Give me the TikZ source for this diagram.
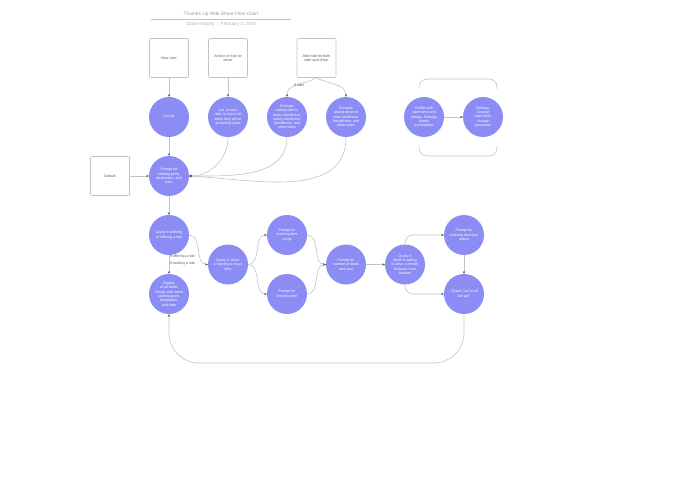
\documentclass[tikz,border=0pt]{standalone}
\usepackage{fontspec}
\setmainfont{Liberation Sans}
\usetikzlibrary{positioning,arrows.meta}
\definecolor{bubble}{RGB}{140,140,245}
\definecolor{wire}{RGB}{195,195,195}
\tikzstyle{stepcircle} = [circle, fill=bubble, minimum size=40pt, inner sep=0pt, align=center, text=white, font=\fontsize{3.6}{4.3}\selectfont]
\tikzstyle{entrybox} = [rectangle, rounded corners=1pt, draw=wire, line width=0.6pt, minimum width=39pt, minimum height=39pt, align=center, text=black!65, font=\fontsize{3.6}{4.3}\selectfont]
\tikzstyle{cond} = [inner sep=0.5pt, text=black!65, font=\fontsize{3.6}{4.3}\selectfont]
\tikzstyle{arrow} = [-{Stealth[length=2.6pt,width=2.4pt,color=black!70]}, draw=wire, line width=0.6pt]

\begin{document}
\begin{tikzpicture}[x=1pt, y=-1pt, node distance=59pt]
      \useasboundingbox (0,0) rectangle (695,494);
      %标题
      \node[text=black!40, font=\fontsize{4.8}{5}\selectfont] (title) at (221,14) {Thumbs Up Ride Share Flow Chart};
      \draw[wire, line width=0.6pt] (151,19.5) -- (291,19.5);
      \node[text=black!30, font=\fontsize{4.6}{5}\selectfont] (author) at (221,24.5) {Claire Murphy \ | \ February 2, 2019};
      %定义流程图具体形状
      \node[stepcircle] (setup) at (169,117) {Set Up};
      \node[entrybox, above of = setup] (newuser) {New User};
      \node[stepcircle, right of = setup] (list) {List \ of each\\rider to check off\\when they arrive\\at starting point};
      \node[entrybox, above of = list] (atride) {At time of ride for\\driver};
      \node[stepcircle, right of = list] (rider) {Prompts\\asking rider to\\enter cleanliness,\\safety, timeliness,\\friendliness, and\\other notes};
      \node[stepcircle, right of = rider] (driver) {Prompts\\asking driver to\\enter timeliness,\\friendliness, and\\other notes};
      \node[entrybox, above of = rider, xshift = 29.5pt] (afterride) {After ride for both\\rider and driver};
      \node[stepcircle, right of = driver, xshift = 19pt] (profile) {Profile with\\username and\\ratings. Settings\\button\\somewhere};
      \node[stepcircle, right of = profile] (settings) {Settings:\\Change\\username,\\change\\password};
      \node[stepcircle, below of = setup] (start) {Prompt for\\starting point,\\destination, and\\date};
      \node[entrybox, left of = start] (default) {Default};
      \node[stepcircle, below of = start] (seek) {Query if seeking\\or offering a ride};
      \node[stepcircle, below of = seek] (display) {Display\\of all driver\\listings with same\\starting point,\\destination,\\and date};
      \node[stepcircle, right of = seek, yshift = -29.5pt] (leave) {Query if \ driver\\is leaving at exact\\time};
      \node[stepcircle, right of = leave, yshift = 29.5pt] (range) {Prompt for\\entering time\\range};
      \node[stepcircle, right of = leave, yshift = -29.5pt] (exact) {Prompt for\\entering time};
      \node[stepcircle, right of = range, yshift = -29.5pt] (seats) {Prompt for\\number of seats\\and cost};
      \node[stepcircle, right of = seats] (willing) {Query if\\driver is willing\\to drive a certain\\distance from\\location};
      \node[stepcircle, right of = willing, yshift = 29.5pt] (radius) {Prompt for\\entering diversion\\radius};
      \node[stepcircle, below of = radius] (great) {"Great! You're all\\set up!"};
      \coordinate (loopend) at (169,363);
      %个人资料分组
      \draw[wire, line width=0.6pt, rounded corners=8pt] (419,89) |- (497,79) -- (497,89);
      \draw[wire, line width=0.6pt, rounded corners=8pt] (419,146) |- (497,156) -- (497,146);
      %连接具体形状
      \draw [arrow] (newuser) -- (setup);
      \draw [arrow] (atride) -- (list);
      \draw [arrow] (afterride.south) to[out=-150, in=90] node[cond, pos=0.3, below left=0pt, yshift=-1pt] {If rider} (rider.north);
      \draw [arrow] (afterride.south) to[out=-30, in=90] (driver.north);
      \draw [arrow] (setup) -- (start);
      \draw [arrow] (list.south) to[out=-90, in=0] (start.east);
      \draw [arrow] (rider.south) to[out=-90, in=0] (start.east);
      \draw [arrow] (driver.south) to[out=-90, in=-3] (start.east);
      \draw [arrow] (default) -- (start);
      \draw [arrow] (profile) -- (settings);
      \draw [arrow] (start) -- (seek);
      \draw [arrow] (seek) -- node[cond, pos=0.1, anchor=west] {If offering a ride} node[cond, pos=0.45, anchor=west] {If seeking a ride} (display);
      \draw [arrow] (seek.east) to[out=0, in=180] (leave.west);
      \draw [arrow] (leave.east) to[out=0, in=180] (range.west);
      \draw [arrow] (leave.east) to[out=0, in=180] (exact.west);
      \draw [arrow] (range.east) to[out=0, in=180] (seats.west);
      \draw [arrow] (exact.east) to[out=0, in=180] (seats.west);
      \draw [arrow] (seats) -- (willing);
      \draw [arrow, rounded corners=8pt] (willing.north) |- (radius.west);
      \draw [arrow, rounded corners=8pt] (willing.south) |- (great.west);
      \draw [arrow] (radius) -- (great);
      \draw [arrow, rounded corners=30pt] (great.south) |- (loopend) -- (display.south);
\end{tikzpicture}
\end{document}
